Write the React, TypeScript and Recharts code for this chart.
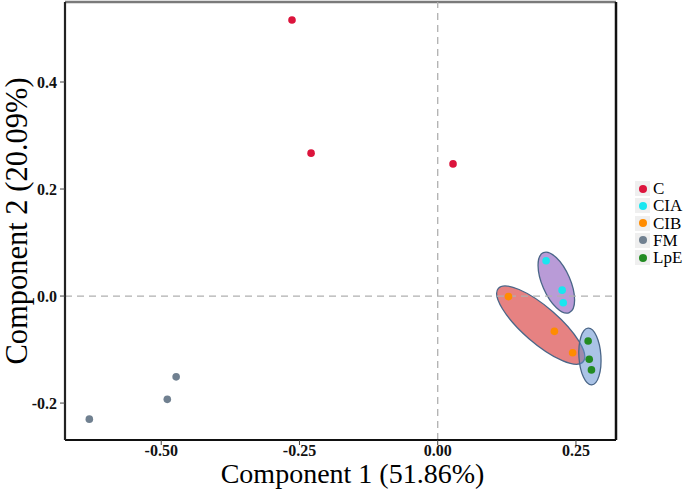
import React from 'react';
import { ScatterChart, Scatter, XAxis, YAxis, ReferenceLine, ReferenceArea } from 'recharts';

const FONT = '"Liberation Serif", "Times New Roman", serif';

// groups
const groupNames = ['C', 'CIA', 'CIB', 'FM', 'LpE'];
const groupColors = ['#DC143C', '#19E6F0', '#FF8C00', '#708090', '#228B22'];

// scores (Component 1, Component 2)
const cX = [-0.2635, -0.229, 0.0277];
const cY = [0.516, 0.267, 0.247];
const ciaX = [0.196, 0.225, 0.227];
const ciaY = [0.066, 0.011, -0.0125];
const cibX = [0.128, 0.211, 0.244];
const cibY = [-0.001, -0.066, -0.106];
const fmX = [-0.63, -0.489, -0.473];
const fmY = [-0.23, -0.193, -0.151];
const lpeX = [0.272, 0.274, 0.278];
const lpeY = [-0.084, -0.118, -0.138];

const groupXs = [cX, ciaX, cibX, fmX, lpeX];
const groupYs = [cY, ciaY, cibY, fmY, lpeY];

// confidence ellipses: major-axis end points (data units)
const ellipseGroups = ['CIA', 'CIB', 'LpE'];
const ellipseX1 = [0.191, 0.1096, 0.272];
const ellipseY1 = [0.081, 0.0144, -0.06];
const ellipseX2 = [0.238, 0.263, 0.2785];
const ellipseY2 = [-0.031, -0.1228, -0.166];
const ellipseFills = ['#8049b6', '#d21c1c', '#6492d1'];
const ellipseMinor = [14, 18, 11];

// axes
const xDomain = [-0.674, 0.3224];
const yDomain = [-0.269, 0.5495];
const xTicks = [-0.5, -0.25, 0, 0.25];
const yTicks = [-0.2, 0, 0.2, 0.4];

const xTitle = 'Component 1 (51.86%)';
const yTitle = 'Component 2 (20.09%)';

const seriesData = groupNames.map((name, gi) =>
  groupXs[gi].map((x, i) => ({ x, y: groupYs[gi][i], group: name }))
);

const makeDot = (color: string) => (props: any) => {
  const { cx, cy } = props;
  if (cx == null || cy == null) return <g />;
  return <circle cx={cx} cy={cy} r={3.8} fill={color} />;
};

const makeEllipse = (fill: string, minor: number) => (props: any) => {
  const { x, y, width, height } = props;
  if (x == null || y == null) return <g />;
  const cx = x + width / 2;
  const cy = y + height / 2;
  const len = Math.sqrt(width * width + height * height);
  const ang = (Math.atan2(height, width) * 180) / Math.PI;
  return (
    <ellipse
      cx={cx}
      cy={cy}
      rx={len / 2}
      ry={minor}
      transform={`rotate(${ang} ${cx} ${cy})`}
      fill={fill}
      fillOpacity={0.55}
      stroke="#4a6688"
      strokeWidth={1.3}
    />
  );
};

const XTitle = (props: any) => {
  const vb = props.viewBox || {};
  return (
    <text
      x={vb.x + vb.width / 2 + 12}
      y={483}
      textAnchor="middle"
      fontFamily={FONT}
      fontSize={28}
      fill="#000"
    >
      {xTitle}
    </text>
  );
};

export default function App() {
  return (
    <div style={{ position: 'absolute', left: 0, top: 0, width: 685, height: 495, background: '#fff' }}>
      <ScatterChart width={685} height={495} margin={{ top: 2, right: 69, bottom: 0, left: 0 }}>
        <XAxis
          type="number"
          dataKey="x"
          domain={xDomain}
          ticks={xTicks}
          allowDataOverflow
          height={55}
          tickSize={5}
          tickMargin={0}
          tickFormatter={(v: number) => v.toFixed(2)}
          axisLine={{ stroke: '#111', strokeWidth: 2.2 }}
          tickLine={{ stroke: '#444' }}
          tick={{ fill: '#111', fontSize: 16, fontFamily: FONT, fontWeight: 'bold' }}
          label={<XTitle />}
        />
        <YAxis
          type="number"
          dataKey="y"
          domain={yDomain}
          ticks={yTicks}
          allowDataOverflow
          width={65}
          tickSize={5}
          tickMargin={3}
          tickFormatter={(v: number) => v.toFixed(1)}
          axisLine={{ stroke: '#222', strokeWidth: 2.2 }}
          tickLine={{ stroke: '#444' }}
          tick={{ fill: '#111', fontSize: 16, fontFamily: FONT, fontWeight: 'bold' }}
          label={{
            value: yTitle,
            angle: -90,
            position: 'insideLeft',
            offset: 16,
            style: { textAnchor: 'middle', fontSize: 30.5, fontFamily: FONT, fill: '#000' },
          }}
        />
        <ReferenceLine y={yDomain[1]} stroke="#7a7a7a" strokeWidth={2.5} />
        <ReferenceLine x={xDomain[1]} stroke="#111" strokeWidth={2.5} />
        <ReferenceLine x={0} stroke="#b0b0b0" strokeWidth={1.3} strokeDasharray="7 5" />
        <ReferenceLine y={0} stroke="#b0b0b0" strokeWidth={1.3} strokeDasharray="7 5" />
        {seriesData.map((d, gi) => (
          <Scatter
            key={groupNames[gi]}
            name={groupNames[gi]}
            data={d}
            fill={groupColors[gi]}
            shape={makeDot(groupColors[gi])}
            isAnimationActive={false}
          />
        ))}
        {ellipseGroups.map((g, i) => (
          <ReferenceArea
            key={g}
            x1={ellipseX1[i]}
            x2={ellipseX2[i]}
            y1={ellipseY1[i]}
            y2={ellipseY2[i]}
            shape={makeEllipse(ellipseFills[i], ellipseMinor[i])}
          />
        ))}
      </ScatterChart>
      <div style={{ position: 'absolute', left: 635, top: 180 }}>
        {groupNames.map((name, i) => (
          <div
            key={name}
            style={{ display: 'flex', alignItems: 'center', height: 17.25, fontFamily: FONT, fontSize: 17 }}
          >
            <div
              style={{
                width: 15,
                height: 15,
                background: '#efefef',
                display: 'flex',
                alignItems: 'center',
                justifyContent: 'center',
              }}
            >
              <div style={{ width: 8, height: 8, borderRadius: 4, background: groupColors[i] }} />
            </div>
            <span style={{ marginLeft: 3, color: '#000', lineHeight: '17px' }}>{name}</span>
          </div>
        ))}
      </div>
    </div>
  );
}
